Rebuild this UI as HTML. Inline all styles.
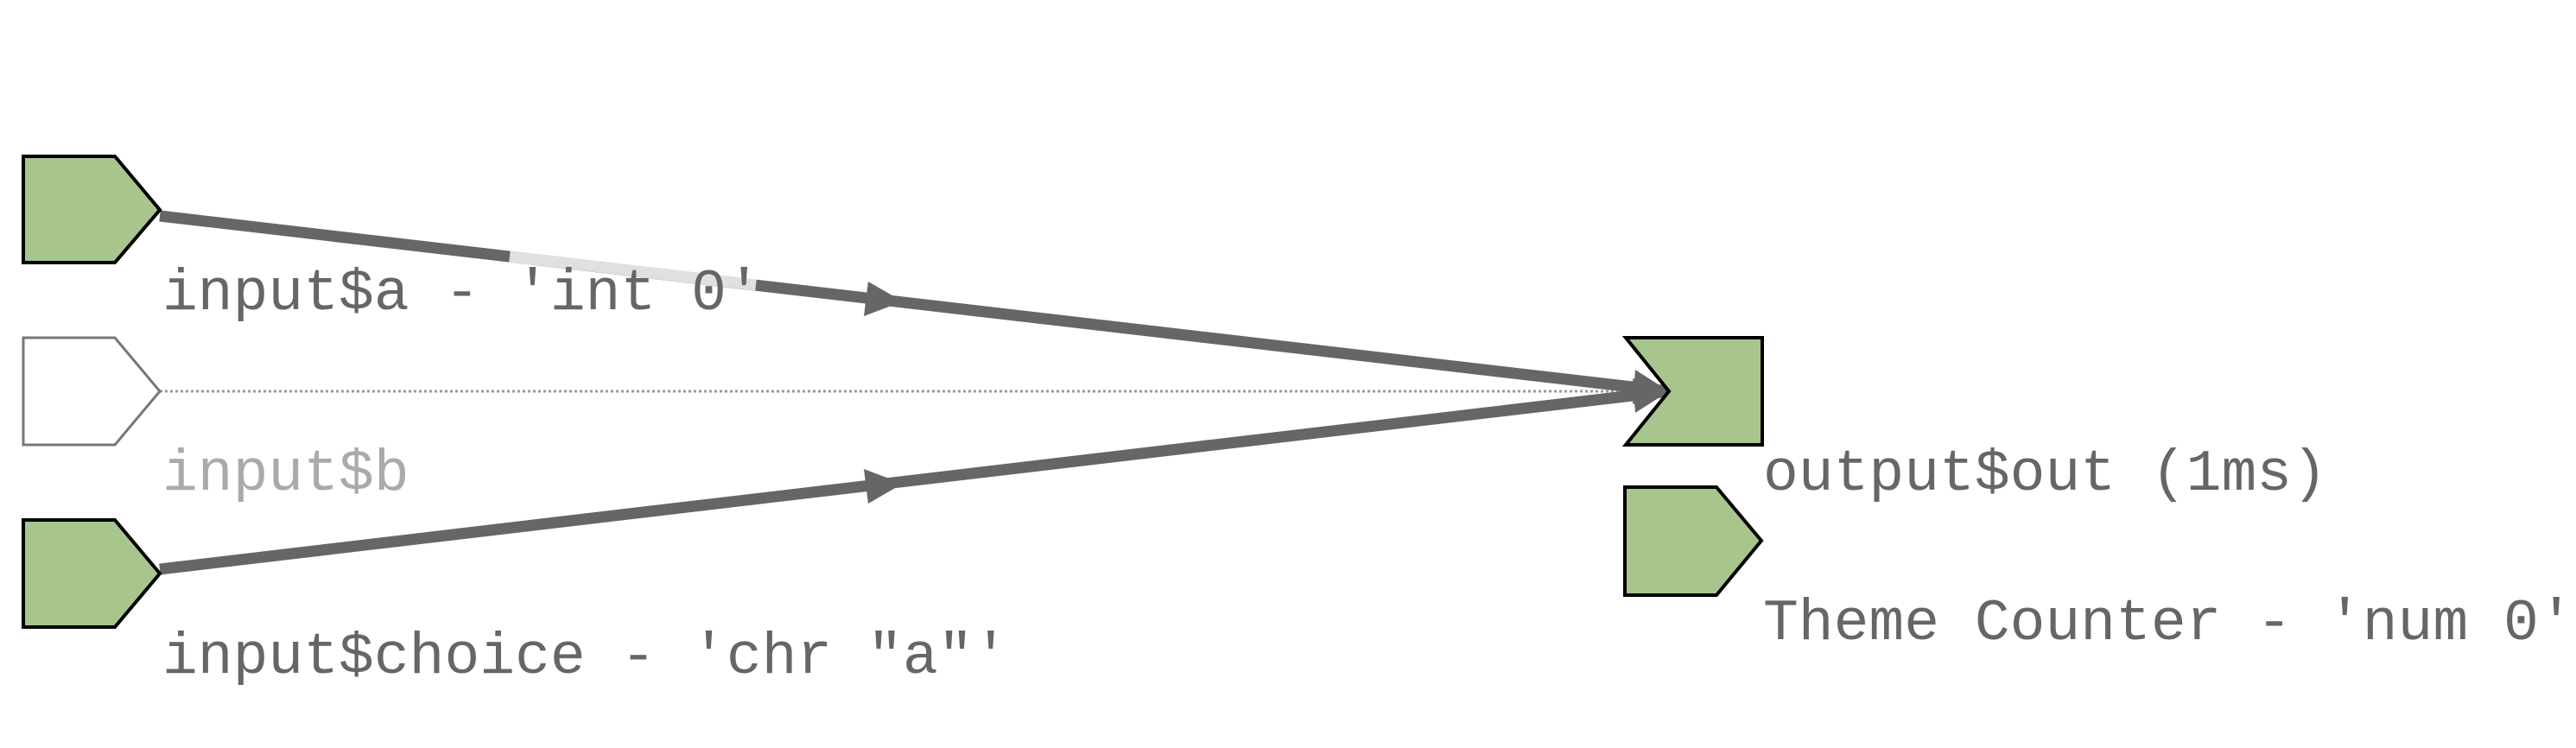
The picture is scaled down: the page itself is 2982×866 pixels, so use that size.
<!DOCTYPE html>
<html><head><meta charset="utf-8"><style>
html,body{margin:0;padding:0;background:#fff;width:2982px;height:866px;overflow:hidden}
text{font-family:"Liberation Mono",monospace;font-size:68px}
</style></head><body>
<svg width="2982" height="866" viewBox="0 0 2982 866" xmlns="http://www.w3.org/2000/svg">
<line x1="185" y1="453" x2="1932" y2="453" stroke="#999" stroke-width="3" stroke-dasharray="3,3"/>
<line x1="185" y1="250" x2="1932" y2="453" stroke="#666" stroke-width="13"/>
<line x1="590" y1="297" x2="875" y2="330" stroke="#e0e0e0" stroke-width="13"/>
<line x1="185" y1="659" x2="1932" y2="453" stroke="#666" stroke-width="13"/>
<polygon points="1045,349 1005,326 1000,366" fill="#666"/>
<polygon points="1045,560 1000,543 1005,583" fill="#666"/>
<polygon points="1932,453 1893,428 1890,468" fill="#666"/>
<polygon points="1932,453 1890,438 1893,478" fill="#666"/>
<polygon points="27,181 133,181 185,243 133,304 27,304" fill="#a8c58e" stroke="#000" stroke-width="4"/>
<polygon points="27,391 133,391 185,453 133,515 27,515" fill="#fff" stroke="#777" stroke-width="3"/>
<polygon points="27,602 133,602 185,664 133,726 27,726" fill="#a8c58e" stroke="#000" stroke-width="4"/>
<polygon points="1882,391 2040,391 2040,515 1882,515 1932,453" fill="#a8c58e" stroke="#000" stroke-width="4"/>
<polygon points="1881,564 1987,564 2039,626 1987,689 1881,689" fill="#a8c58e" stroke="#000" stroke-width="4"/>
<text x="188" y="358" fill="#666">input$a - 'int 0'</text>
<text x="188" y="567" fill="#aaa">input$b</text>
<text x="188" y="779" fill="#666">input$choice - 'chr "a"'</text>
<text x="2041" y="567" fill="#666">output$out (1ms)</text>
<text x="2041" y="740" fill="#666">Theme Counter - 'num 0'</text>
</svg>
</body></html>
